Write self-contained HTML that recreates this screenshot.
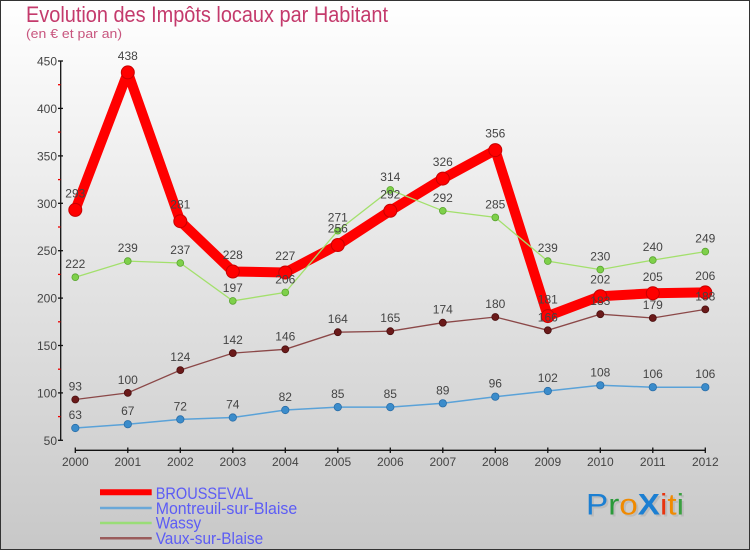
<!DOCTYPE html>
<html><head><meta charset="utf-8"><style>
html,body{margin:0;padding:0}
body{width:750px;height:550px;overflow:hidden}
.wrap{width:750px;height:550px;box-sizing:border-box;border:1px solid #333;background:linear-gradient(#ffffff,#c8c8c8)}
svg{display:block}
text{font-family:"Liberation Sans",sans-serif}
.lab{font-size:12px;fill:#444;text-anchor:middle}
.yl{font-size:12px;fill:#444;text-anchor:end}
.leg{font-size:17px;fill:#5c5cf5}
</style></head><body><div class="wrap">
<svg width="748" height="548" viewBox="1 1 748 548" xmlns="http://www.w3.org/2000/svg">
<text x="26" y="22" font-size="22" fill="#c43a6c" textLength="362" lengthAdjust="spacingAndGlyphs">Evolution des Impôts locaux par Habitant</text>
<text x="26" y="38" font-size="13" fill="#c8557e" textLength="96" lengthAdjust="spacingAndGlyphs">(en € et par an)</text>

<!-- axes -->
<line x1="60.7" y1="61" x2="60.7" y2="440.3" stroke="#111" stroke-width="1.3"/>
<line x1="75.3" y1="450.3" x2="705.3" y2="450.3" stroke="#111" stroke-width="1.3"/>
<g stroke="#111" stroke-width="1.3">
<line x1="58" y1="61" x2="63" y2="61"/><line x1="58" y1="108.4" x2="63" y2="108.4"/><line x1="58" y1="155.9" x2="63" y2="155.9"/><line x1="58" y1="203.3" x2="63" y2="203.3"/><line x1="58" y1="250.7" x2="63" y2="250.7"/><line x1="58" y1="298.1" x2="63" y2="298.1"/><line x1="58" y1="345.5" x2="63" y2="345.5"/><line x1="58" y1="392.9" x2="63" y2="392.9"/><line x1="58" y1="440.3" x2="63" y2="440.3"/>
</g>
<g stroke="#e00" stroke-width="1.3">
<line x1="58" y1="84.7" x2="60.5" y2="84.7"/><line x1="58" y1="132.1" x2="60.5" y2="132.1"/><line x1="58" y1="179.6" x2="60.5" y2="179.6"/><line x1="58" y1="227" x2="60.5" y2="227"/><line x1="58" y1="274.4" x2="60.5" y2="274.4"/><line x1="58" y1="321.8" x2="60.5" y2="321.8"/><line x1="58" y1="369.2" x2="60.5" y2="369.2"/><line x1="58" y1="416.6" x2="60.5" y2="416.6"/>
</g>
<g stroke="#111" stroke-width="1.3">
<line x1="75.3" y1="447.5" x2="75.3" y2="453"/><line x1="127.8" y1="447.5" x2="127.8" y2="453"/><line x1="180.3" y1="447.5" x2="180.3" y2="453"/><line x1="232.8" y1="447.5" x2="232.8" y2="453"/><line x1="285.3" y1="447.5" x2="285.3" y2="453"/><line x1="337.8" y1="447.5" x2="337.8" y2="453"/><line x1="390.3" y1="447.5" x2="390.3" y2="453"/><line x1="442.8" y1="447.5" x2="442.8" y2="453"/><line x1="495.3" y1="447.5" x2="495.3" y2="453"/><line x1="547.8" y1="447.5" x2="547.8" y2="453"/><line x1="600.3" y1="447.5" x2="600.3" y2="453"/><line x1="652.8" y1="447.5" x2="652.8" y2="453"/><line x1="705.3" y1="447.5" x2="705.3" y2="453"/>
</g>
<g class="yl">
<text x="57" y="65.5">450</text><text x="57" y="112.9">400</text><text x="57" y="160.4">350</text><text x="57" y="207.8">300</text><text x="57" y="255.2">250</text><text x="57" y="302.6">200</text><text x="57" y="350">150</text><text x="57" y="397.4">100</text><text x="57" y="444.8">50</text>
</g>
<g class="lab">
<text x="75.3" y="466">2000</text><text x="127.8" y="466">2001</text><text x="180.3" y="466">2002</text><text x="232.8" y="466">2003</text><text x="285.3" y="466">2004</text><text x="337.8" y="466">2005</text><text x="390.3" y="466">2006</text><text x="442.8" y="466">2007</text><text x="495.3" y="466">2008</text><text x="547.8" y="466">2009</text><text x="600.3" y="466">2010</text><text x="652.8" y="466">2011</text><text x="705.3" y="466">2012</text>
</g>

<!-- BROUSSEVAL -->
<polyline fill="none" stroke="#f00" stroke-width="10" stroke-linejoin="round" stroke-linecap="round" points="75.3,209.9 127.8,72.4 180.3,221.2 232.8,271.5 285.3,272.5 337.8,245 390.3,210.8 442.8,178.6 495.3,150.1 547.8,316.1 600.3,296.2 652.8,293.3 705.3,292.4"/>
<g fill="#f00" stroke="#c80000" stroke-width="1">
<circle cx="75.3" cy="209.9" r="6.5"/><circle cx="127.8" cy="72.4" r="6.5"/><circle cx="180.3" cy="221.2" r="6.5"/><circle cx="232.8" cy="271.5" r="6.5"/><circle cx="285.3" cy="272.5" r="6.5"/><circle cx="337.8" cy="245" r="6.5"/><circle cx="390.3" cy="210.8" r="6.5"/><circle cx="442.8" cy="178.6" r="6.5"/><circle cx="495.3" cy="150.1" r="6.5"/><circle cx="547.8" cy="316.1" r="6.5"/><circle cx="600.3" cy="296.2" r="6.5"/><circle cx="652.8" cy="293.3" r="6.5"/><circle cx="705.3" cy="292.4" r="6.5"/>
</g>

<!-- Montreuil -->
<polyline fill="none" stroke="#5aa2d8" stroke-width="1.5" points="75.3,428 127.8,424.2 180.3,419.4 232.8,417.5 285.3,410 337.8,407.1 390.3,407.1 442.8,403.3 495.3,396.7 547.8,391 600.3,385.3 652.8,387.2 705.3,387.2"/>
<g fill="#3b8ccb" stroke="#2a6ea8" stroke-width="0.8">
<circle cx="75.3" cy="428" r="3.7"/><circle cx="127.8" cy="424.2" r="3.7"/><circle cx="180.3" cy="419.4" r="3.7"/><circle cx="232.8" cy="417.5" r="3.7"/><circle cx="285.3" cy="410" r="3.7"/><circle cx="337.8" cy="407.1" r="3.7"/><circle cx="390.3" cy="407.1" r="3.7"/><circle cx="442.8" cy="403.3" r="3.7"/><circle cx="495.3" cy="396.7" r="3.7"/><circle cx="547.8" cy="391" r="3.7"/><circle cx="600.3" cy="385.3" r="3.7"/><circle cx="652.8" cy="387.2" r="3.7"/><circle cx="705.3" cy="387.2" r="3.7"/>
</g>

<!-- Wassy -->
<polyline fill="none" stroke="#a3e06c" stroke-width="1.3" points="75.3,277.2 127.8,261.1 180.3,263 232.8,300.9 285.3,292.4 337.8,230.7 390.3,189.9 442.8,210.8 495.3,217.4 547.8,261.1 600.3,269.6 652.8,260.1 705.3,251.6"/>
<g fill="#7ed04a" stroke="#5aa530" stroke-width="0.8">
<circle cx="75.3" cy="277.2" r="3.4"/><circle cx="127.8" cy="261.1" r="3.4"/><circle cx="180.3" cy="263" r="3.4"/><circle cx="232.8" cy="300.9" r="3.4"/><circle cx="285.3" cy="292.4" r="3.4"/><circle cx="337.8" cy="230.7" r="3.4"/><circle cx="390.3" cy="189.9" r="3.4"/><circle cx="442.8" cy="210.8" r="3.4"/><circle cx="495.3" cy="217.4" r="3.4"/><circle cx="547.8" cy="261.1" r="3.4"/><circle cx="600.3" cy="269.6" r="3.4"/><circle cx="652.8" cy="260.1" r="3.4"/><circle cx="705.3" cy="251.6" r="3.4"/>
</g>

<!-- Vaux -->
<polyline fill="none" stroke="#8b4848" stroke-width="1.3" points="75.3,399.5 127.8,392.9 180.3,370.1 232.8,353.1 285.3,349.3 337.8,332.2 390.3,331.2 442.8,322.7 495.3,317 547.8,330.3 600.3,314.2 652.8,318 705.3,309.4"/>
<g fill="#6b1a1a" stroke="#4a1010" stroke-width="0.8">
<circle cx="75.3" cy="399.5" r="3.5"/><circle cx="127.8" cy="392.9" r="3.5"/><circle cx="180.3" cy="370.1" r="3.5"/><circle cx="232.8" cy="353.1" r="3.5"/><circle cx="285.3" cy="349.3" r="3.5"/><circle cx="337.8" cy="332.2" r="3.5"/><circle cx="390.3" cy="331.2" r="3.5"/><circle cx="442.8" cy="322.7" r="3.5"/><circle cx="495.3" cy="317" r="3.5"/><circle cx="547.8" cy="330.3" r="3.5"/><circle cx="600.3" cy="314.2" r="3.5"/><circle cx="652.8" cy="318" r="3.5"/><circle cx="705.3" cy="309.4" r="3.5"/>
</g>

<!-- data labels -->
<g class="lab">
<text x="75.3" y="197.4">293</text><text x="127.8" y="59.9">438</text><text x="180.3" y="208.7">281</text><text x="232.8" y="259">228</text><text x="285.3" y="260">227</text><text x="337.8" y="232.5">256</text><text x="390.3" y="198.3">292</text><text x="442.8" y="166.1">326</text><text x="495.3" y="137.6">356</text><text x="547.8" y="303.6">181</text><text x="600.3" y="283.7">202</text><text x="652.8" y="280.8">205</text><text x="705.3" y="279.9">206</text>

<text x="75.3" y="419">63</text><text x="127.8" y="415.2">67</text><text x="180.3" y="410.4">72</text><text x="232.8" y="408.5">74</text><text x="285.3" y="401">82</text><text x="337.8" y="398.1">85</text><text x="390.3" y="398.1">85</text><text x="442.8" y="394.3">89</text><text x="495.3" y="387.7">96</text><text x="547.8" y="382">102</text><text x="600.3" y="376.3">108</text><text x="652.8" y="378.2">106</text><text x="705.3" y="378.2">106</text>

<text x="75.3" y="268.2">222</text><text x="127.8" y="252.1">239</text><text x="180.3" y="254">237</text><text x="232.8" y="291.9">197</text><text x="285.3" y="283.4">206</text><text x="337.8" y="221.7">271</text><text x="390.3" y="180.9">314</text><text x="442.8" y="201.8">292</text><text x="495.3" y="208.4">285</text><text x="547.8" y="252.1">239</text><text x="600.3" y="260.6">230</text><text x="652.8" y="251.1">240</text><text x="705.3" y="242.6">249</text>

<text x="75.3" y="390.5">93</text><text x="127.8" y="383.9">100</text><text x="180.3" y="361.1">124</text><text x="232.8" y="344.1">142</text><text x="285.3" y="340.3">146</text><text x="337.8" y="323.2">164</text><text x="390.3" y="322.2">165</text><text x="442.8" y="313.7">174</text><text x="495.3" y="308">180</text><text x="547.8" y="321.3">166</text><text x="600.3" y="305.2">183</text><text x="652.8" y="309">179</text><text x="705.3" y="300.4">188</text>
</g>

<!-- legend -->
<line x1="100" y1="492.3" x2="151.7" y2="492.3" stroke="#f00" stroke-width="6"/>
<line x1="100" y1="508" x2="151.7" y2="508" stroke="#6aa8d8" stroke-width="2.5"/>
<line x1="100" y1="523" x2="151.7" y2="523" stroke="#99dd77" stroke-width="2.5"/>
<line x1="100" y1="538.3" x2="151.7" y2="538.3" stroke="#9a5c5c" stroke-width="2.5"/>
<text class="leg" x="155.7" y="499" textLength="97.5" lengthAdjust="spacingAndGlyphs">BROUSSEVAL</text>
<text class="leg" x="155.7" y="514" textLength="141.5" lengthAdjust="spacingAndGlyphs">Montreuil-sur-Blaise</text>
<text class="leg" x="155.7" y="528.5" textLength="45.5" lengthAdjust="spacingAndGlyphs">Wassy</text>
<text class="leg" x="155.7" y="544" textLength="107.5" lengthAdjust="spacingAndGlyphs">Vaux-sur-Blaise</text>

<!-- Proxiti logo -->
<g font-size="30" font-family="'Liberation Sans',sans-serif">
<text x="588" y="516.5" fill="#bbb" textLength="98" lengthAdjust="spacingAndGlyphs"><tspan>Pro</tspan><tspan font-weight="bold">X</tspan><tspan>iti</tspan></text>
<text x="586" y="514.5" textLength="98" lengthAdjust="spacingAndGlyphs"><tspan fill="#1c7fd2">P</tspan><tspan fill="#2a9a3a">r</tspan><tspan fill="#f08a00">o</tspan><tspan fill="#1c7fd2" font-weight="bold">X</tspan><tspan fill="#e8340f">i</tspan><tspan fill="#f08a00">t</tspan><tspan fill="#3aa040">i</tspan></text>
</g>
</svg>
</div></body></html>
